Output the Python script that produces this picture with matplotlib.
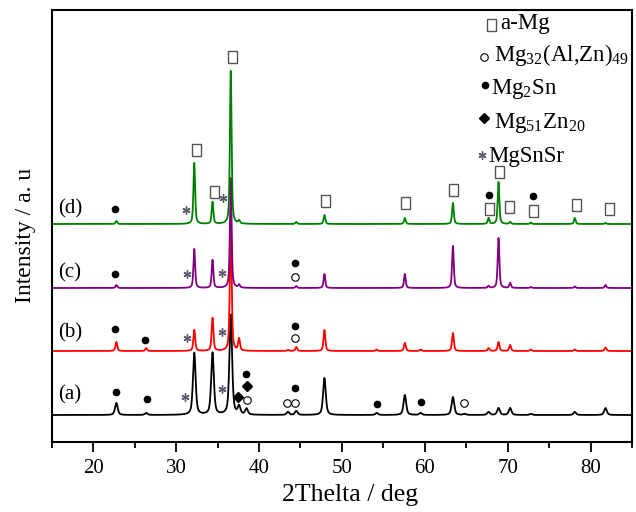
import numpy as np
import matplotlib
matplotlib.use('Agg')
import matplotlib.pyplot as plt

plt.rcParams['font.family'] = ['Liberation Serif', 'DejaVu Sans']
plt.rcParams['mathtext.fontset'] = 'custom'
plt.rcParams['mathtext.rm'] = 'Liberation Serif'
plt.rcParams['mathtext.it'] = 'Liberation Serif:italic'
plt.rcParams['mathtext.default'] = 'rm'

# ---------------- data ----------------
samples = ['(a)', '(b)', '(c)', '(d)']
peak_pos = [22.8, 26.4, 32.2, 34.4, 36.6, 37.6, 38.5, 43.5, 44.5, 47.9, 54.2,
            57.6, 59.5, 63.4, 64.8, 67.7, 68.9, 70.3, 72.8, 78.1, 81.8]
int_a = [12, 2, 62, 62, 100, 8, 6, 3, 4, 37, 2, 20, 2, 18, 1, 3, 7, 7, 1, 3, 7]
int_b = [9, 3, 21, 33, 125, 12, 0, 1, 4, 21, 1.5, 8, 1.5, 18, 0, 3, 9, 6, 1.5, 1.5, 3.5]
int_c = [3, 0, 39, 28, 110, 3, 0, 0, 2, 14, 0, 14, 0, 42, 0, 2, 50, 5, 1, 1.5, 3]
int_d = [3, 0, 61, 22, 153, 3, 0, 0, 2, 9, 0, 6, 0, 21, 0, 6, 42, 2, 1.5, 6, 1]
intensities = [int_a, int_b, int_c, int_d]

legend_labels = ['a-Mg', 'Mg$_{32}$(Al,Zn)$_{49}$', 'Mg$_{2}$Sn',
                 'Mg$_{51}$Zn$_{20}$', 'MgSnSr']

# ---------------- layout / style ----------------
offsets = [27, 91, 154, 218]
widths = [0.38, 0.26, 0.24, 0.24]
colors = ['black', '#ff0000', '#800080', '#008000']

x = np.arange(15, 85.001, 0.01)


def profile(pos, hts, w, eta=0.55):
    y = np.zeros_like(x)
    for p, h in zip(pos, hts):
        d = (x - p) / (w / 2)
        y += h * (eta / (1 + d ** 2) + (1 - eta) * np.exp(-np.log(2) * d ** 2))
    return y


fig = plt.figure(figsize=(6.36, 5.12), dpi=100)
ax = fig.add_axes([0.0813, 0.1367, 0.9124, 0.8438])

for hts, off, w, c in zip(intensities, offsets, widths, colors):
    ax.plot(x, profile(peak_pos, hts, w) + off, color=c, lw=1.3)

ax.set_xlim(15, 85)
ax.set_ylim(0, 432)

# curve labels
label_y = [47, 109, 169, 233]
for s, ly in zip(samples, label_y):
    ax.text(17.2, ly, s, fontsize=15, ha='center', va='center')

# phase marks (x in deg, y in axis units)
dots = [(22.7, 50), (26.5, 43), (44.4, 54), (54.2, 38), (59.5, 40), (38.4, 68),
        (22.6, 113), (26.3, 102), (44.4, 116),
        (22.6, 168), (44.4, 179),
        (22.6, 233), (67.7, 247), (73.1, 246)]
stars = [(31.1, 45), (35.55, 53), (31.3, 104), (35.55, 110),
         (31.3, 168), (35.55, 169), (31.2, 232), (35.7, 244)]
diamonds = [(38.5, 56), (37.5, 45)]
circles = [(38.6, 42), (43.4, 39), (44.4, 39), (64.7, 39), (44.4, 104), (44.4, 165)]
boxes = [(32.4, 292), (34.6, 250), (36.7, 385), (48.0, 241), (57.6, 239),
         (63.4, 252), (67.7, 233), (69.0, 270), (70.2, 235), (73.1, 231),
         (78.2, 237), (82.2, 233)]

box_marker = [(-0.36, -0.5), (0.36, -0.5), (0.36, 0.5), (-0.36, 0.5), (-0.36, -0.5)]
sty_dot = dict(marker='o', ms=4.5, mfc='black', mec='black', ls='none')
sty_star = dict(marker=(6, 2, 0), ms=5.8, mec='#5a5a70', mew=1.0, ls='none')
sty_dia = dict(marker='D', ms=5.0, mfc='black', mec='black', ls='none')
sty_circ = dict(marker='o', ms=5.4, mfc='none', mec='black', mew=0.8, ls='none')
sty_box = dict(marker=box_marker, ms=9, mfc='none', mec='#555555', mew=1.0, ls='none')

for pts, sty in [(dots, sty_dot), (stars, sty_star), (diamonds, sty_dia),
                 (circles, sty_circ), (boxes, sty_box)]:
    ax.plot([p[0] for p in pts], [p[1] for p in pts], **sty)

# legend built from symbols and text
leg_styles = [sty_box, sty_circ, sty_dot, sty_dia, sty_star]
leg_sym_x = [68.0, 67.15, 67.3, 67.15, 66.9]
leg_sym_y = [417, 385, 357, 324, 287]
leg_txt_x = [69.1, 68.3, 68.05, 68.3, 67.7]
leg_txt_y = [413, 381, 348, 314, 280]
for i, lab in enumerate(legend_labels):
    ax.plot([leg_sym_x[i]], [leg_sym_y[i]], **leg_styles[i])
    ax.text(leg_txt_x[i], leg_txt_y[i], lab, fontsize=16.5, ha='left', va='baseline')

ax.set_xticks([20, 30, 40, 50, 60, 70, 80])
ax.set_xticks([15, 25, 35, 45, 55, 65, 75, 85], minor=True)
ax.set_yticks([])
ax.tick_params(axis='x', which='major', direction='out', length=7.2, width=1.3,
               labelsize=15, pad=5)
ax.tick_params(axis='x', which='minor', direction='out', length=4, width=1.3)
for sp in ax.spines.values():
    sp.set_linewidth(1.5)

ax.set_xlabel('2Thelta / deg', fontsize=18.5)
ax.set_ylabel('Intensity / a. u', fontsize=17)
ax.xaxis.set_label_coords(0.514, -0.097)
ax.yaxis.set_label_coords(-0.027, 0.477)

fig.savefig('out.png', dpi=100)
